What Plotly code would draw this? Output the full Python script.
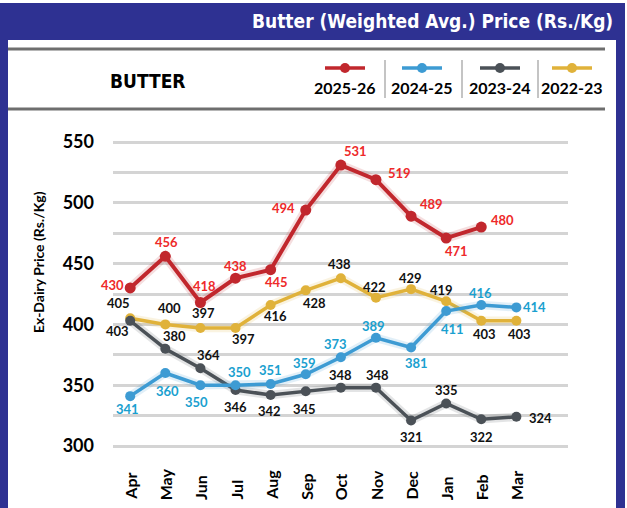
import plotly.graph_objects as go

months = ["Apr", "May", "Jun", "Jul", "Aug", "Sep", "Oct", "Nov", "Dec", "Jan", "Feb", "Mar"]
series_names = ["2025-26", "2024-25", "2023-24", "2022-23"]
y_2025_26 = [430, 456, 418, 438, 445, 494, 531, 519, 489, 471, 480, None]
y_2024_25 = [341, 360, 350, 350, 351, 359, 373, 389, 381, 411, 416, 414]
y_2023_24 = [403, 380, 364, 346, 342, 345, 348, 348, 321, 335, 322, 324]
y_2022_23 = [405, 400, 397, 397, 416, 428, 438, 422, 429, 419, 403, 403]
y_ticks = [300, 350, 400, 450, 500, 550]

title_text = "Butter (Weighted Avg.) Price (Rs./Kg)"
header_text = "BUTTER"
y_title = "Ex-Dairy Price (Rs./Kg)"

# styles / label offsets (pixels, dy positive downward)
off_2025_26 = [(-18, -3), (1, -14), (4, -17), (0, -12), (6, 12), (-22, -2), (15, -14), (24, -7), (20, -12), (10, 13), (21, -7), None]
off_2024_25 = [(-3, 13), (2, 18), (-4, 17), (4, -13), (0, -14), (-1, -11), (-5, -13), (-2, -12), (5, 15), (6, 18), (-1, -12), (18, 0)]
off_2023_24 = [(-13, 10), (9, -13), (8, -13), (0, 17), (-1, 16), (-1, 18), (0, -13), (2, -13), (0, 17), (0, -13), (0, 18), (24, 1)]
off_2022_23 = [(-12, -15), (4, -16), (3, -15), (8, 11), (5, 11), (9, 13), (-1, -14), (-1, -11), (-1, -11), (-5, -11), (3, 13), (3, 13)]

W, H = 627, 508
L, R, T, B = 113, 59, 130, 50
PW, PH = W - L - R, H - T - B
BLUE = "#2e3192"
FONT = "Lato, Roboto, sans-serif"
NARROW = "Liberation Sans Narrow, DejaVu Sans Condensed, Arial Narrow, sans-serif"

def px2x(px):
    return (px - L) / PW

def py2y(py):
    return (H - B - py) / PH

styles = [
    dict(name=series_names[3], y=y_2022_23, off=off_2022_23, line="#e0b23a", txt="#111111", lw=3.5, ms=10),
    dict(name=series_names[2], y=y_2023_24, off=off_2023_24, line="#4b5157", txt="#111111", lw=3.5, ms=10),
    dict(name=series_names[1], y=y_2024_25, off=off_2024_25, line="#3d9bd3", txt="#1aa0cf", lw=3.5, ms=10),
    dict(name=series_names[0], y=y_2025_26, off=off_2025_26, line="#c1272d", txt="#ee2a2a", lw=4, ms=11),
]

fig = go.Figure()
annotations = []
for s in styles:
    fig.add_trace(go.Scatter(x=months, y=s["y"], mode="lines", line=dict(color=s["line"], width=s["lw"] + 5),
                             opacity=0.15, hoverinfo="skip", showlegend=False))
    fig.add_trace(go.Scatter(x=months, y=s["y"], mode="lines+markers", name=s["name"],
                             line=dict(color=s["line"], width=s["lw"]),
                             marker=dict(color=s["line"], size=s["ms"]), showlegend=False))
    for m, v, o in zip(months, s["y"], s["off"]):
        if v is None:
            continue
        annotations.append(dict(x=m, y=v, xref="x", yref="y", text=str(v), showarrow=False,
                                xanchor="center", yanchor="middle",
                                xshift=o[0], yshift=-o[1],
                                font=dict(family=FONT, size=13, color=s["txt"], weight="bold")))

# month labels (bottom aligned)
for m in months:
    annotations.append(dict(x=m, y=py2y(502), xref="x", yref="paper", text=m, showarrow=False,
                            textangle=-90, yanchor="bottom", xanchor="center",
                            font=dict(family=FONT, size=16, color="#000", weight="bold")))

# y title
annotations.append(dict(x=px2x(38), y=py2y(262), xref="paper", yref="paper", text=y_title, showarrow=False,
                        textangle=-90, xanchor="center", yanchor="middle",
                        font=dict(family=FONT, size=14, color="#000", weight="bold")))
# header title
annotations.append(dict(x=px2x(615), y=py2y(21), xref="paper", yref="paper", text=title_text, showarrow=False,
                        xanchor="right", yanchor="middle",
                        font=dict(family=NARROW, size=19, color="white", weight="bold")))
annotations.append(dict(x=px2x(148), y=py2y(81), xref="paper", yref="paper", text=header_text, showarrow=False,
                        xanchor="center", yanchor="middle",
                        font=dict(family=NARROW, size=19, color="#000", weight="bold")))

shapes = [
    dict(type="rect", xref="paper", yref="paper", x0=px2x(0), x1=px2x(625), y0=py2y(508), y1=py2y(3),
         fillcolor=BLUE, line=dict(width=0), layer="below"),
    dict(type="rect", xref="paper", yref="paper", x0=px2x(8), x1=px2x(616), y0=py2y(508), y1=py2y(40),
         fillcolor="white", line=dict(width=0), layer="below"),
    dict(type="line", xref="paper", yref="paper", x0=px2x(8), x1=px2x(605), y0=py2y(49), y1=py2y(49),
         line=dict(color="#6e6e6e", width=3), layer="below"),
    dict(type="line", xref="paper", yref="paper", x0=px2x(8), x1=px2x(605), y0=py2y(109), y1=py2y(109),
         line=dict(color="#6e6e6e", width=3), layer="below"),
]
for dx in [385, 462, 538]:
    shapes.append(dict(type="line", xref="paper", yref="paper", x0=px2x(dx), x1=px2x(dx), y0=py2y(60), y1=py2y(98),
                       line=dict(color="#b0b0b0", width=1.5)))

legend_cx = [345, 422, 500, 572]
legend_styles = [styles[3], styles[2], styles[1], styles[0]]
for cx, s in zip(legend_cx, legend_styles):
    shapes.append(dict(type="line", xref="paper", yref="paper", x0=px2x(cx - 20), x1=px2x(cx + 20),
                       y0=py2y(68), y1=py2y(68), line=dict(color=s["line"], width=3.5)))
    shapes.append(dict(type="circle", xref="paper", yref="paper", x0=px2x(cx - 5), x1=px2x(cx + 5),
                       y0=py2y(73), y1=py2y(63), fillcolor=s["line"], line=dict(width=0)))
    annotations.append(dict(x=px2x(cx), y=py2y(87), xref="paper", yref="paper", text=s["name"], showarrow=False,
                            xanchor="center", yanchor="middle",
                            font=dict(family=FONT, size=16, color="#000", weight="bold")))

fig.update_layout(
    width=W, height=H, margin=dict(l=L, r=R, t=T, b=B),
    paper_bgcolor="white", plot_bgcolor="rgba(0,0,0,0)",
    xaxis=dict(type="category", range=[-0.49, 12.47], showgrid=False, showticklabels=False,
               zeroline=False, showline=False, fixedrange=True),
    yaxis=dict(range=[290.13, 559.87], tickvals=y_ticks, ticktext=[str(t) for t in y_ticks],
               showgrid=True, gridcolor="#d4d4d4", gridwidth=3, zeroline=False, showline=False,
               ticklabelstandoff=18,
               tickfont=dict(family=FONT, size=18, color="#000", weight="bold"),
               minor=dict(dtick=25, tick0=300, showgrid=True, gridcolor="#d4d4d4", gridwidth=3),
               fixedrange=True),
    shapes=shapes, annotations=annotations, showlegend=False,
)
fig.write_html("out.html", config={"displayModeBar": False},
               post_script="document.body.style.margin='0';document.body.style.overflow='hidden';")
